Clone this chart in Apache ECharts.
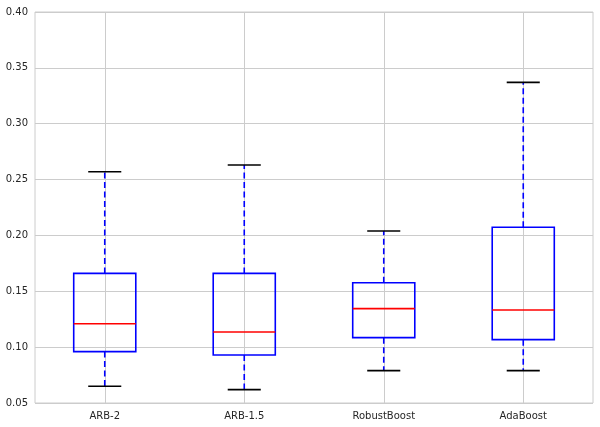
<!DOCTYPE html>
<html>
<head>
<meta charset="utf-8">
<script src="https://cdn.jsdelivr.net/npm/echarts@6/dist/echarts.min.js"></script>
<style>html,body{margin:0;padding:0;background:#fff}#c{width:600px;height:427px}</style>
</head>
<body>
<div id="c"></div>
<script>
var categories = ['ARB-2', 'ARB-1.5', 'RobustBoost', 'AdaBoost'];
var lowWhisker = [0.065, 0.062, 0.079, 0.079];
var q1 = [0.096, 0.093, 0.1085, 0.1067];
var median = [0.121, 0.1136, 0.1345, 0.1333];
var q3 = [0.166, 0.166, 0.1577, 0.2073];
var highWhisker = [0.257, 0.263, 0.204, 0.337];
var yTicks = [0.05, 0.10, 0.15, 0.20, 0.25, 0.30, 0.35, 0.40];

var data = categories.map(function (c, i) {
  return [i, lowWhisker[i], q1[i], median[i], q3[i], highWhisker[i]];
});

function renderItem(params, api) {
  var i = api.value(0);
  var band = api.size([1, 0])[0];
  var boxW = band * 0.445;
  var capW = band * 0.237;
  var pLow = api.coord([i, api.value(1)]);
  var pQ1 = api.coord([i, api.value(2)]);
  var pMed = api.coord([i, api.value(3)]);
  var pQ3 = api.coord([i, api.value(4)]);
  var pHigh = api.coord([i, api.value(5)]);
  var cx = pQ1[0];
  var blue = '#0000ff';
  var lw = 1.6;
  return {
    type: 'group',
    children: [
      {type: 'line', shape: {x1: cx, y1: pQ3[1], x2: cx, y2: pHigh[1]},
       style: {stroke: blue, lineWidth: lw, lineDash: [6, 3.5]}},
      {type: 'line', shape: {x1: cx, y1: pQ1[1], x2: cx, y2: pLow[1]},
       style: {stroke: blue, lineWidth: lw, lineDash: [6, 3.5]}},
      {type: 'line', shape: {x1: cx - capW / 2, y1: pHigh[1], x2: cx + capW / 2, y2: pHigh[1]},
       style: {stroke: '#000', lineWidth: lw}},
      {type: 'line', shape: {x1: cx - capW / 2, y1: pLow[1], x2: cx + capW / 2, y2: pLow[1]},
       style: {stroke: '#000', lineWidth: lw}},
      {type: 'rect', shape: {x: cx - boxW / 2, y: pQ3[1], width: boxW, height: pQ1[1] - pQ3[1]},
       style: {stroke: blue, fill: 'none', lineWidth: lw}},
      {type: 'line', shape: {x1: cx - boxW / 2, y1: pMed[1], x2: cx + boxW / 2, y2: pMed[1]},
       style: {stroke: '#ff0000', lineWidth: lw}}
    ]
  };
}

var chart = echarts.init(document.getElementById('c'), null, {renderer: 'canvas'});
chart.setOption({
  animation: false,
  backgroundColor: '#fff',
  grid: {left: 35, right: 7, top: 12, bottom: 24, show: true, borderColor: '#cccccc', borderWidth: 1},
  xAxis: {
    type: 'category',
    data: categories,
    axisLine: {show: false},
    axisTick: {show: false},
    axisLabel: {color: '#262626', fontSize: 10, fontFamily: 'DejaVu Sans', margin: 8},
    splitLine: {show: true, alignWithLabel: true, lineStyle: {color: '#cccccc', width: 1}}
  },
  yAxis: {
    type: 'value',
    min: yTicks[0],
    max: yTicks[yTicks.length - 1],
    interval: 0.05,
    axisLine: {show: false},
    axisTick: {show: false},
    axisLabel: {color: '#262626', fontSize: 10, fontFamily: 'DejaVu Sans', margin: 7,
      formatter: function (v) { return v.toFixed(2); }},
    splitLine: {show: true, lineStyle: {color: '#cccccc', width: 1}}
  },
  series: [{
    type: 'custom',
    renderItem: renderItem,
    encode: {x: 0, y: [1, 2, 3, 4, 5]},
    data: data,
    clip: false
  }]
});
</script>
</body>
</html>
